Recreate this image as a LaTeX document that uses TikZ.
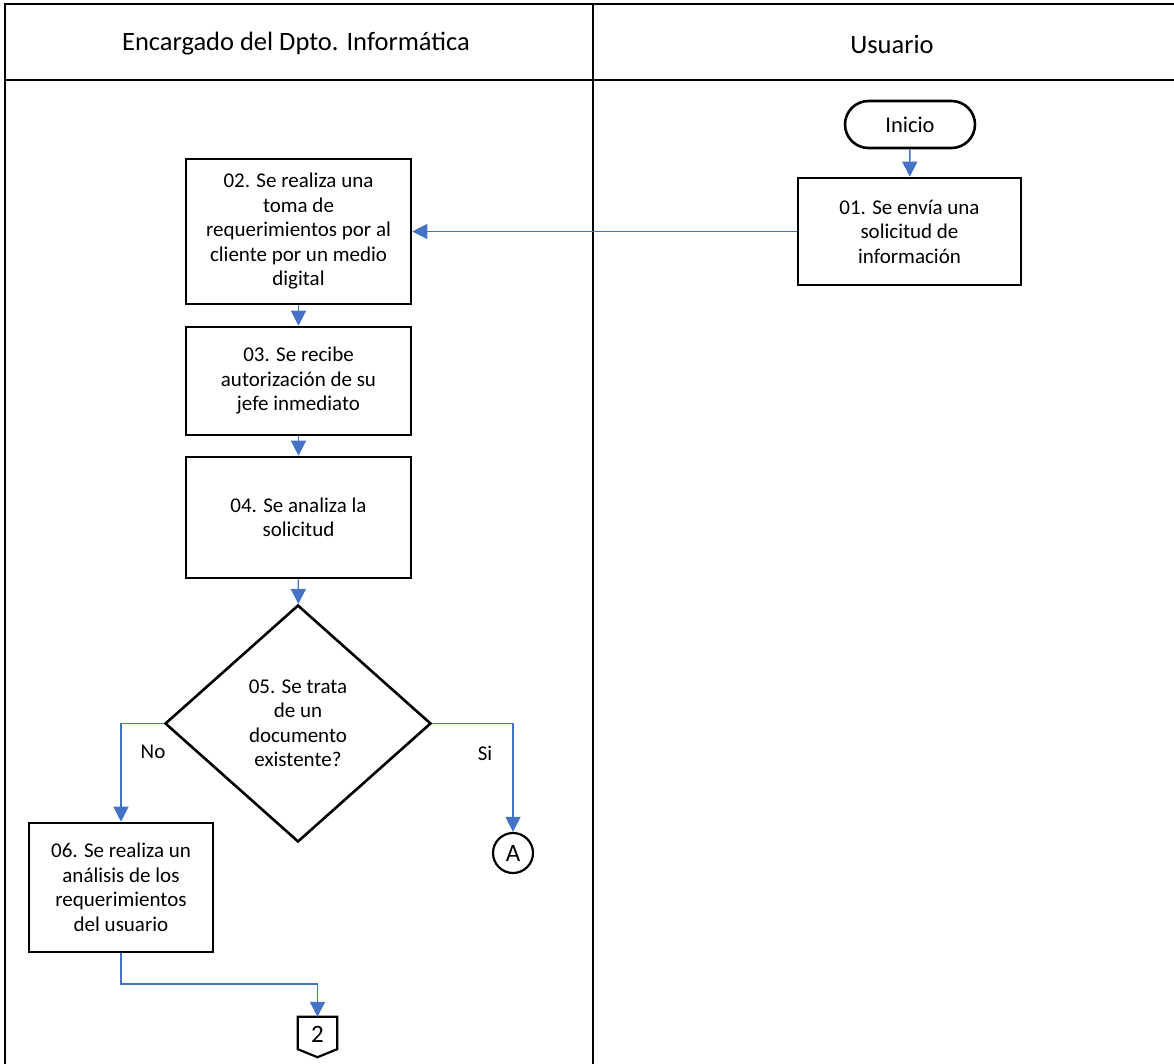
\documentclass[tikz,border=0pt]{standalone}
\usepackage{fontspec}
\setmainfont{Carlito}
\usetikzlibrary{shapes.geometric,arrows.meta,calc}

\definecolor{flowblue}{HTML}{4472C4}

\tikzset{
  every node/.style={font=\fontsize{21}{24.5}\selectfont},
  lane/.style={line width=2pt, draw=black},
  header/.style={font=\fontsize{26.5}{31}\selectfont},
  procbox/.style={draw=black, line width=2.6pt, fill=white, align=center,
                  inner sep=0pt},
  terminal/.style={draw=black, line width=2.6pt, fill=white, inner sep=0pt,
                   minimum width=130pt, minimum height=47pt, rounded corners=23.5pt,
                   font=\fontsize{22.5}{26}\selectfont},
  decision/.style={diamond, draw=black, line width=2.6pt, fill=white, align=center,
                   inner sep=0pt, minimum width=266pt, minimum height=237pt},
  connector/.style={font=\fontsize{25}{30}\selectfont},
  flow/.style={draw=flowblue, line width=1.3pt,
               -{Triangle[length=15pt, width=15pt]}},
  branchlabel/.style={inner sep=0pt}
}

\begin{document}
\begin{tikzpicture}[x=1pt, y=-1pt]
  \useasboundingbox (0,0) rectangle (1174,1064);

  % swimlane frame
  \draw[lane] (4.5,1064) -- (4.5,4.5) -- (1174,4.5);
  \draw[lane] (4.5,80) -- (1174,80);
  \draw[lane] (593,4.5) -- (593,1064);
  \node[header] (h1) at (296,44) {Encargado del Dpto. Informática};
  \node[header] (h2) at (892,44) {Usuario};

  % user lane
  \node[terminal] (ini) at (910,124.5) {Inicio};
  \node[procbox, minimum width=223pt, minimum height=107pt] (b01) at (909.5,231.5)
    {01. Se envía una\\solicitud de\\información};

  % IT lane
  \node[procbox, minimum width=225pt, minimum height=145pt] (b02) at (298.5,231.5)
    {02. Se realiza una\\toma de\\requerimientos por al\\cliente por un medio\\digital};
  \node[procbox, minimum width=225pt, minimum height=108pt] (b03) at (298.5,381)
    {03. Se recibe\\autorización de su\\jefe inmediato};
  \node[procbox, minimum width=225pt, minimum height=121pt] (b04) at (298.5,517.5)
    {04. Se analiza la\\solicitud};
  \node[decision] (d05) at (298,723.5)
    {05. Se trata\\de un\\documento\\existente?};
  \node[procbox, minimum width=184pt, minimum height=129pt] (b06) at (121,887.5)
    {06. Se realiza un\\análisis de los\\requerimientos\\del usuario};

  % on-page and off-page connectors
  \node[draw=black, line width=2.2pt, circle, minimum size=40pt, inner sep=0pt, connector]
    (conA) at (513,853) {A};
  \node[minimum width=39pt, minimum height=40pt, inner sep=0pt] (conB) at (317.5,1037) {};
  \draw[line width=2.2pt, line join=miter]
    (conB.north west) -- (conB.north east) -- ($(conB.south east)+(0,-8)$)
    -- (conB.south) -- ($(conB.south west)+(0,-8)$) -- cycle;
  \node[connector] (conBtext) at (317.5,1034) {2};

  % flow
  \draw[flow] (ini) -- (b01);
  \draw[flow] (b01) -- (b02);
  \draw[flow] (b02) -- (b03);
  \draw[flow] (b03) -- (b04);
  \draw[flow] (b04) -- (d05);
  \draw[flow] (d05.west) -| (b06.north);
  \draw[flow] (d05.east) -| (conA.north);
  \coordinate (bend) at (317.5,984);
  \draw[flow] (b06.south) |- (bend) -- (conB.north);

  \node[branchlabel] (lno) at (153,752) {No};
  \node[branchlabel] (lsi) at (485,753) {Si};
\end{tikzpicture}
\end{document}
